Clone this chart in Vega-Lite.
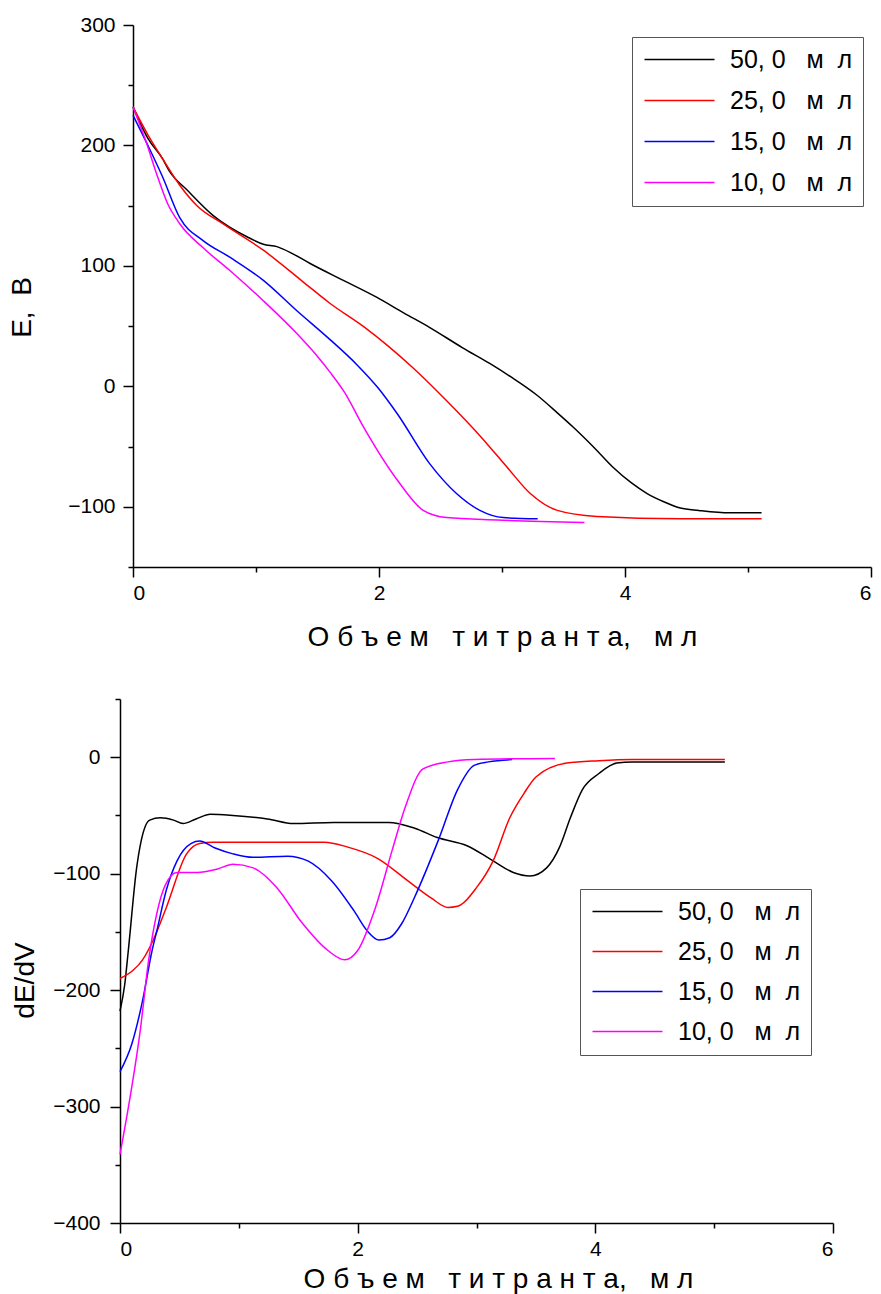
{
  "$schema": "https://vega.github.io/schema/vega-lite/v6.json",
  "background": "white",
  "padding": {"left": 8, "top": 14, "right": 2, "bottom": 2},
  "config": {
    "view": {"stroke": null},
    "font": "Liberation Sans",
    "axis": {
      "grid": false,
      "domainColor": "black",
      "domainWidth": 1.5,
      "tickColor": "black",
      "tickWidth": 1.5,
      "labelFont": "Liberation Sans",
      "labelFontSize": 21,
      "labelColor": "black",
      "titleFont": "Liberation Sans",
      "titleFontSize": 28,
      "titleFontWeight": "normal",
      "titleColor": "black"
    },
    "legend": {
      "labelFont": "Liberation Sans",
      "labelFontSize": 25,
      "labelColor": "black",
      "strokeColor": "#555555",
      "padding": 10,
      "rowPadding": 15,
      "symbolType": "M-35,0H35",
      "symbolSize": 4,
      "symbolStrokeWidth": 1.5,
      "symbolOffset": 25,
      "labelOffset": 38,
      "title": null
    }
  },
  "datasets": {
    "potential": [
      {"s": "50", "v": 0, "e": 232}, {"s": "50", "v": 0.12, "e": 206}, {"s": "50", "v": 0.24, "e": 189}, {"s": "50", "v": 0.3, "e": 178},
      {"s": "50", "v": 0.44, "e": 163}, {"s": "50", "v": 0.65, "e": 142}, {"s": "50", "v": 0.93, "e": 124}, {"s": "50", "v": 1.06, "e": 118},
      {"s": "50", "v": 1.17, "e": 116}, {"s": "50", "v": 1.3, "e": 110}, {"s": "50", "v": 1.44, "e": 102}, {"s": "50", "v": 1.71, "e": 88},
      {"s": "50", "v": 1.98, "e": 74}, {"s": "50", "v": 2.2, "e": 61}, {"s": "50", "v": 2.41, "e": 49}, {"s": "50", "v": 2.68, "e": 32},
      {"s": "50", "v": 2.9, "e": 19}, {"s": "50", "v": 3.07, "e": 8}, {"s": "50", "v": 3.28, "e": -7}, {"s": "50", "v": 3.45, "e": -22},
      {"s": "50", "v": 3.58, "e": -34}, {"s": "50", "v": 3.75, "e": -51}, {"s": "50", "v": 3.9, "e": -67}, {"s": "50", "v": 4.05, "e": -80},
      {"s": "50", "v": 4.18, "e": -89}, {"s": "50", "v": 4.32, "e": -96}, {"s": "50", "v": 4.45, "e": -101}, {"s": "50", "v": 4.6, "e": -103},
      {"s": "50", "v": 4.85, "e": -105}, {"s": "50", "v": 5.11, "e": -105},

      {"s": "25", "v": 0, "e": 232}, {"s": "25", "v": 0.12, "e": 209}, {"s": "25", "v": 0.24, "e": 189}, {"s": "25", "v": 0.38, "e": 167},
      {"s": "25", "v": 0.52, "e": 150}, {"s": "25", "v": 0.73, "e": 135}, {"s": "25", "v": 1.06, "e": 113}, {"s": "25", "v": 1.38, "e": 87},
      {"s": "25", "v": 1.6, "e": 69}, {"s": "25", "v": 1.87, "e": 50}, {"s": "25", "v": 2.08, "e": 33}, {"s": "25", "v": 2.28, "e": 15},
      {"s": "25", "v": 2.55, "e": -12}, {"s": "25", "v": 2.82, "e": -41}, {"s": "25", "v": 3.04, "e": -67},
      {"s": "25", "v": 3.23, "e": -89}, {"s": "25", "v": 3.45, "e": -103}, {"s": "25", "v": 3.77, "e": -108}, {"s": "25", "v": 4.45, "e": -110},
      {"s": "25", "v": 5.11, "e": -110},

      {"s": "15", "v": 0, "e": 225}, {"s": "15", "v": 0.14, "e": 196}, {"s": "15", "v": 0.24, "e": 174}, {"s": "15", "v": 0.38, "e": 140},
      {"s": "15", "v": 0.57, "e": 121}, {"s": "15", "v": 0.79, "e": 107}, {"s": "15", "v": 1.06, "e": 88}, {"s": "15", "v": 1.33, "e": 63},
      {"s": "15", "v": 1.6, "e": 39}, {"s": "15", "v": 1.82, "e": 18}, {"s": "15", "v": 1.99, "e": -1}, {"s": "15", "v": 2.15, "e": -23},
      {"s": "15", "v": 2.41, "e": -64}, {"s": "15", "v": 2.63, "e": -89}, {"s": "15", "v": 2.82, "e": -103}, {"s": "15", "v": 3.01, "e": -109},
      {"s": "15", "v": 3.29, "e": -110},

      {"s": "10", "v": 0, "e": 232}, {"s": "10", "v": 0.11, "e": 202}, {"s": "10", "v": 0.19, "e": 177}, {"s": "10", "v": 0.28, "e": 152},
      {"s": "10", "v": 0.38, "e": 135}, {"s": "10", "v": 0.57, "e": 115}, {"s": "10", "v": 0.79, "e": 96}, {"s": "10", "v": 1.06, "e": 71},
      {"s": "10", "v": 1.33, "e": 44}, {"s": "10", "v": 1.49, "e": 26}, {"s": "10", "v": 1.6, "e": 12}, {"s": "10", "v": 1.72, "e": -5},
      {"s": "10", "v": 1.87, "e": -33}, {"s": "10", "v": 2.15, "e": -78}, {"s": "10", "v": 2.36, "e": -103}, {"s": "10", "v": 2.55, "e": -109},
      {"s": "10", "v": 2.96, "e": -111}, {"s": "10", "v": 3.67, "e": -113}
    ],
    "derivative": [
      {"s": "50", "v": 0, "d": -218}, {"s": "50", "v": 0.04, "d": -195}, {"s": "50", "v": 0.07, "d": -166}, {"s": "50", "v": 0.14, "d": -95},
      {"s": "50", "v": 0.18, "d": -71}, {"s": "50", "v": 0.25, "d": -54}, {"s": "50", "v": 0.34, "d": -52}, {"s": "50", "v": 0.45, "d": -54},
      {"s": "50", "v": 0.53, "d": -57}, {"s": "50", "v": 0.64, "d": -53}, {"s": "50", "v": 0.76, "d": -49}, {"s": "50", "v": 0.95, "d": -50},
      {"s": "50", "v": 1.24, "d": -53}, {"s": "50", "v": 1.46, "d": -57}, {"s": "50", "v": 1.8, "d": -56}, {"s": "50", "v": 2.26, "d": -56},
      {"s": "50", "v": 2.48, "d": -61}, {"s": "50", "v": 2.67, "d": -69}, {"s": "50", "v": 2.92, "d": -76}, {"s": "50", "v": 3.14, "d": -89},
      {"s": "50", "v": 3.31, "d": -99}, {"s": "50", "v": 3.45, "d": -102}, {"s": "50", "v": 3.59, "d": -95}, {"s": "50", "v": 3.7, "d": -77},
      {"s": "50", "v": 3.79, "d": -52}, {"s": "50", "v": 3.89, "d": -28}, {"s": "50", "v": 4.03, "d": -14}, {"s": "50", "v": 4.18, "d": -5},
      {"s": "50", "v": 4.31, "d": -4}, {"s": "50", "v": 5.09, "d": -4},

      {"s": "25", "v": 0, "d": -190}, {"s": "25", "v": 0.11, "d": -183}, {"s": "25", "v": 0.19, "d": -174}, {"s": "25", "v": 0.28, "d": -157},
      {"s": "25", "v": 0.39, "d": -129}, {"s": "25", "v": 0.56, "d": -83}, {"s": "25", "v": 0.67, "d": -74}, {"s": "25", "v": 0.78, "d": -73},
      {"s": "25", "v": 1.52, "d": -73}, {"s": "25", "v": 1.72, "d": -73}, {"s": "25", "v": 1.91, "d": -77}, {"s": "25", "v": 2.17, "d": -87},
      {"s": "25", "v": 2.42, "d": -106}, {"s": "25", "v": 2.62, "d": -121}, {"s": "25", "v": 2.76, "d": -129}, {"s": "25", "v": 2.84, "d": -128},
      {"s": "25", "v": 3.0, "d": -112}, {"s": "25", "v": 3.14, "d": -89}, {"s": "25", "v": 3.28, "d": -52}, {"s": "25", "v": 3.4, "d": -31},
      {"s": "25", "v": 3.5, "d": -17}, {"s": "25", "v": 3.76, "d": -5}, {"s": "25", "v": 4.03, "d": -3}, {"s": "25", "v": 4.31, "d": -2},
      {"s": "25", "v": 5.09, "d": -2},

      {"s": "15", "v": 0, "d": -270}, {"s": "15", "v": 0.1, "d": -246}, {"s": "15", "v": 0.19, "d": -209}, {"s": "15", "v": 0.27, "d": -166},
      {"s": "15", "v": 0.31, "d": -149}, {"s": "15", "v": 0.39, "d": -114}, {"s": "15", "v": 0.48, "d": -89}, {"s": "15", "v": 0.6, "d": -74},
      {"s": "15", "v": 0.67, "d": -72}, {"s": "15", "v": 0.8, "d": -78}, {"s": "15", "v": 0.95, "d": -83}, {"s": "15", "v": 1.12, "d": -86},
      {"s": "15", "v": 1.41, "d": -85}, {"s": "15", "v": 1.58, "d": -89}, {"s": "15", "v": 1.78, "d": -106}, {"s": "15", "v": 1.97, "d": -132},
      {"s": "15", "v": 2.08, "d": -149}, {"s": "15", "v": 2.18, "d": -157}, {"s": "15", "v": 2.27, "d": -155}, {"s": "15", "v": 2.37, "d": -143},
      {"s": "15", "v": 2.48, "d": -120}, {"s": "15", "v": 2.68, "d": -71}, {"s": "15", "v": 2.84, "d": -28}, {"s": "15", "v": 2.98, "d": -7},
      {"s": "15", "v": 3.1, "d": -4}, {"s": "15", "v": 3.3, "d": -2},

      {"s": "10", "v": 0, "d": -341}, {"s": "10", "v": 0.08, "d": -295}, {"s": "10", "v": 0.17, "d": -235}, {"s": "10", "v": 0.24, "d": -175},
      {"s": "10", "v": 0.31, "d": -134}, {"s": "10", "v": 0.38, "d": -110}, {"s": "10", "v": 0.48, "d": -99}, {"s": "10", "v": 0.65, "d": -99},
      {"s": "10", "v": 0.82, "d": -96}, {"s": "10", "v": 0.95, "d": -92}, {"s": "10", "v": 1.12, "d": -95}, {"s": "10", "v": 1.32, "d": -112},
      {"s": "10", "v": 1.53, "d": -142}, {"s": "10", "v": 1.75, "d": -166}, {"s": "10", "v": 1.89, "d": -174}, {"s": "10", "v": 2.0, "d": -166},
      {"s": "10", "v": 2.15, "d": -129}, {"s": "10", "v": 2.29, "d": -80}, {"s": "10", "v": 2.4, "d": -43}, {"s": "10", "v": 2.55, "d": -10},
      {"s": "10", "v": 2.76, "d": -4}, {"s": "10", "v": 2.98, "d": -2}, {"s": "10", "v": 3.66, "d": -1}
    ]
  },
  "concat": [
    {
      "width": 738,
      "height": 542,
      "data": {"name": "potential"},
      "mark": {"type": "line", "strokeWidth": 1.5, "interpolate": "monotone"},
      "encoding": {
        "x": {
          "field": "v", "type": "quantitative",
          "scale": {"domain": [0, 6], "nice": false, "zero": false},
          "axis": {
            "title": "О\u00a0б\u00a0ъ\u00a0е\u00a0м\u00a0\u00a0\u00a0т\u00a0и\u00a0т\u00a0р\u00a0а\u00a0н\u00a0т\u00a0а,\u00a0\u00a0\u00a0м\u00a0л",
            "values": [0, 1, 2, 3, 4, 5, 6],
            "tickSize": {"condition": {"test": "datum.value % 2 === 0", "value": 10}, "value": 5},
            "labelExpr": "datum.value % 2 === 0 ? datum.label : ''",
            "labelPadding": 5,
            "titlePadding": 20
          }
        },
        "y": {
          "field": "e", "type": "quantitative",
          "scale": {"domain": [-150, 300], "nice": false, "zero": false},
          "axis": {
            "title": "Е,\u00a0\u00a0В",
            "values": [-150, -100, -50, 0, 50, 100, 150, 200, 250, 300],
            "tickSize": {"condition": {"test": "datum.value % 100 === 0", "value": 10}, "value": 5},
            "labelExpr": "datum.value % 100 === 0 ? datum.label : ''",
            "labelPadding": 8,
            "titlePadding": 31,
            "titleY": 282
          }
        },
        "color": {
          "field": "s", "type": "nominal",
          "scale": {"domain": ["50", "25", "15", "10"], "range": ["#000000", "#ff0000", "#0000ff", "#ff00ff"]},
          "legend": {"orient": "none", "legendX": 499, "legendY": 12, "labelExpr": "datum.label + ',\u00a00\u00a0\u00a0\u00a0м\u00a0\u00a0л'"}
        }
      }
    },
    {
      "width": 700,
      "height": 524,
      "data": {"name": "derivative"},
      "mark": {"type": "line", "strokeWidth": 1.5, "interpolate": "monotone"},
      "encoding": {
        "x": {
          "field": "v", "type": "quantitative",
          "scale": {"domain": [0, 6], "nice": false, "zero": false, "range": [-13, 700]},
          "axis": {
            "title": "О\u00a0б\u00a0ъ\u00a0е\u00a0м\u00a0\u00a0\u00a0т\u00a0и\u00a0т\u00a0р\u00a0а\u00a0н\u00a0т\u00a0а,\u00a0\u00a0\u00a0м\u00a0л",
            "values": [0, 1, 2, 3, 4, 5, 6],
            "tickSize": {"condition": {"test": "datum.value % 2 === 0", "value": 10}, "value": 5},
            "labelExpr": "datum.value % 2 === 0 ? datum.label : ''",
            "labelPadding": 5,
            "titlePadding": 6,
            "titleX": 365
          }
        },
        "y": {
          "field": "d", "type": "quantitative",
          "scale": {"domain": [-400, 50], "nice": false, "zero": false},
          "axis": {
            "title": "dE/dV",
            "values": [-400, -350, -300, -250, -200, -150, -100, -50, 0, 50],
            "tickSize": {"condition": {"test": "datum.value % 100 === 0", "value": 10}, "value": 5},
            "labelExpr": "datum.value % 100 === 0 ? datum.label : ''",
            "labelPadding": 10,
            "titlePadding": 13,
            "titleY": 281,
            "offset": 13
          }
        },
        "color": {
          "field": "s", "type": "nominal",
          "scale": {"domain": ["50", "25", "15", "10"], "range": ["#000000", "#ff0000", "#0000ff", "#ff00ff"]},
          "legend": {"orient": "none", "legendX": 447, "legendY": 190, "rowPadding": 14, "labelExpr": "datum.label + ',\u00a00\u00a0\u00a0\u00a0м\u00a0\u00a0л'"}
        }
      }
    }
  ],
  "columns": 1,
  "spacing": 47,
  "resolve": {"scale": {"color": "independent"}, "legend": {"color": "independent"}}
}
